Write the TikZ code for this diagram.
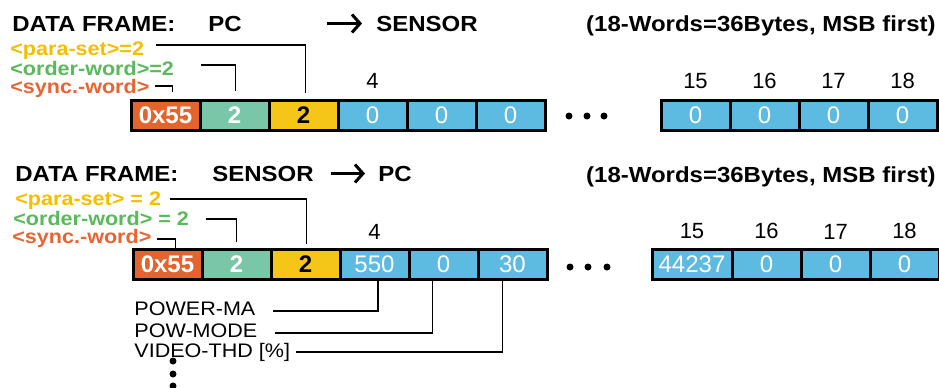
\documentclass[tikz,border=0pt]{standalone}
\usepackage{fontspec}
\setmainfont{Liberation Sans}
\newfontfamily\widesf{Liberation Sans}[FakeStretch=1.1]
\usepackage{tikz}
\usetikzlibrary{positioning,arrows.meta}
\definecolor{syncorange}{HTML}{E3642D}
\definecolor{ordergreen}{HTML}{7AC6A8}
\definecolor{parayellow}{HTML}{F5C518}
\definecolor{wordblue}{HTML}{5DBBE1}
\definecolor{synctext}{HTML}{E86432}
\definecolor{ordertext}{HTML}{5AB95A}
\definecolor{paratext}{HTML}{F5BE00}

\begin{document}
\begin{tikzpicture}[
  x=0.5pt, y=-0.5pt,
  word/.style={rectangle, draw=black, line width=1.5pt, fill=wordblue,
               minimum width=34.5pt, minimum height=15pt, inner sep=0pt,
               outer sep=0pt, text=white, font=\fontsize{12}{14}\selectfont},
  syncbox/.style={word, fill=syncorange, font=\fontsize{12}{14}\selectfont\bfseries},
  orderbox/.style={word, fill=ordergreen, font=\fontsize{12}{14}\selectfont\bfseries},
  parabox/.style={word, fill=parayellow, text=black,
                  font=\fontsize{12}{14}\selectfont\bfseries},
  head/.style={inner sep=0pt, anchor=base west,
               font=\widesf\fontsize{10.9}{12}\selectfont\bfseries},
  lbl/.style={inner sep=0pt, anchor=base west,
              font=\widesf\fontsize{9.8}{11}\selectfont\bfseries},
  field/.style={inner sep=0pt, anchor=base west,
                font=\widesf\fontsize{9.8}{11}\selectfont},
  idx/.style={inner sep=0pt, font=\fontsize{11}{13}\selectfont},
  lead/.style={line width=0.6pt},
  dir/.style={line width=1.5pt, -{Straight Barb[length=4pt,width=9pt]}},
  node distance=0pt
]
  \useasboundingbox (0,0) rectangle (939,387);

  % PC -> SENSOR
  \node[head]                   (tdf)  at (12,31)  {DATA FRAME:};
  \node[head]                   (tpc)  at (208,31) {PC};
  \node[head]                   (tsen) at (376,31) {SENSOR};
  \node[head, anchor=base east] (tlen) at (936,31) {(18-Words=36Bytes, MSB first)};
  \draw[dir, shorten <=42.5pt, shorten >=7pt] (tpc) -- (tsen);

  \node[lbl, text=paratext]  (tparalbl)  at (10,55) {<para-set>=2};
  \node[lbl, text=ordertext] (torderlbl) at (10,75) {<order-word>=2};
  \node[lbl, text=synctext]  (tsynclbl)  at (10,93) {<sync.-word>};

  \node[syncbox]                  (tsync)  at (165.5,115) {0x55};
  \node[orderbox, right=of tsync] (torder) {2};
  \node[parabox, right=of torder] (tpara)  {2};
  \node[word, right=of tpara]     (tw4)    {0};
  \node[word, right=of tw4]       (tw5)    {0};
  \node[word, right=of tw5]       (tw6)    {0};
  \node[word]                     (tw15)   at (695.5,115) {0};
  \node[word, right=of tw15]      (tw16)   {0};
  \node[word, right=of tw16]      (tw17)   {0};
  \node[word, right=of tw17]      (tw18)   {0};

  \node[idx, above=5.5pt of tw4]  (tn4)  {4};
  \node[idx, above=5.5pt of tw15] (tn15) {15};
  \node[idx, above=5.5pt of tw16] (tn16) {16};
  \node[idx, above=5.5pt of tw17] (tn17) {17};
  \node[idx, above=5.5pt of tw18] (tn18) {18};

  \draw[lead, shorten >=3.5pt] ([shift={(6pt,5pt)}]tparalbl.base east) -| ([xshift=1pt]tpara.north);
  \draw[lead, shorten >=4.5pt] ([shift={(13.5pt,5pt)}]torderlbl.base east) -| ([xshift=0.5pt]torder.north);
  \draw[lead, shorten >=4pt] ([shift={(2.5pt,3.5pt)}]tsynclbl.base east) -| ([xshift=3.5pt]tsync.north);

  \fill (569,116) circle[radius=1.75pt];
  \fill (587,116) circle[radius=1.75pt];
  \fill (604,116) circle[radius=1.75pt];

  % SENSOR -> PC
  \node[head]                   (bdf)  at (15,181)  {DATA FRAME:};
  \node[head]                   (bsen) at (212,181) {SENSOR};
  \node[head]                   (bpc)  at (378,181) {PC};
  \node[head, anchor=base east] (blen) at (936,182) {(18-Words=36Bytes, MSB first)};
  \draw[dir, shorten <=8.5pt, shorten >=6.5pt] (bsen) -- (bpc);

  \node[lbl, text=paratext]  (bparalbl)  at (15,205) {<para-set> = 2};
  \node[lbl, text=ordertext] (borderlbl) at (13,225) {<order-word> = 2};
  \node[lbl, text=synctext]  (bsynclbl)  at (12,243) {<sync.-word>};

  \node[syncbox]                  (bsync)  at (167.5,264.5) {0x55};
  \node[orderbox, right=of bsync] (border) {2};
  \node[parabox, right=of border] (bpara)  {2};
  \node[word, right=of bpara]     (bw4)    {550};
  \node[word, right=of bw4]       (bw5)    {0};
  \node[word, right=of bw5]       (bw6)    {30};
  \node[word, minimum width=40pt] (bw15)   at (692,264.5) {44237};
  \node[word, right=of bw15]      (bw16)   {0};
  \node[word, right=of bw16]      (bw17)   {0};
  \node[word, right=of bw17]      (bw18)   {0};

  \node[idx, above=5pt of bw4]  (bn4)  {4};
  \node[idx, above=5pt of bw15] (bn15) {15};
  \node[idx, above=5pt of bw16] (bn16) {16};
  \node[idx, above=5pt of bw17] (bn17) {17};
  \node[idx, above=5pt of bw18] (bn18) {18};

  \draw[lead, shorten >=3pt] ([shift={(4.5pt,3pt)}]bparalbl.base east) -| ([xshift=0.5pt]bpara.north);
  \draw[lead, shorten >=4pt] ([shift={(8.5pt,3pt)}]borderlbl.base east) -| (border.north);
  \draw[lead, shorten >=1pt] ([shift={(2.5pt,2pt)}]bsynclbl.base east) -| ([xshift=4pt]bsync.north);

  \fill (570,267) circle[radius=1.75pt];
  \fill (588,267) circle[radius=1.75pt];
  \fill (607,267) circle[radius=1.75pt];

  \node[field] (pmalbl)  at (134,315) {POWER-MA};
  \node[field] (pmodlbl) at (134,337) {POW-MODE};
  \node[field] (vthdlbl) at (134,357) {VIDEO-THD [\%]};

  \draw[lead] ([xshift=1.75pt]bw4.south) |- ([shift={(8.5pt,2pt)}]pmalbl.base east);
  \draw[lead] ([xshift=-5.5pt]bw5.south) |- ([shift={(8.5pt,2pt)}]pmodlbl.base east);
  \draw[lead] ([xshift=-5pt]bw6.south) |- ([shift={(2.5pt,2.5pt)}]vthdlbl.base east);

  \fill (173,361) circle[radius=1.75pt];
  \fill (173,374) circle[radius=1.75pt];
  \fill (173,386) circle[radius=1.75pt];
\end{tikzpicture}
\end{document}
